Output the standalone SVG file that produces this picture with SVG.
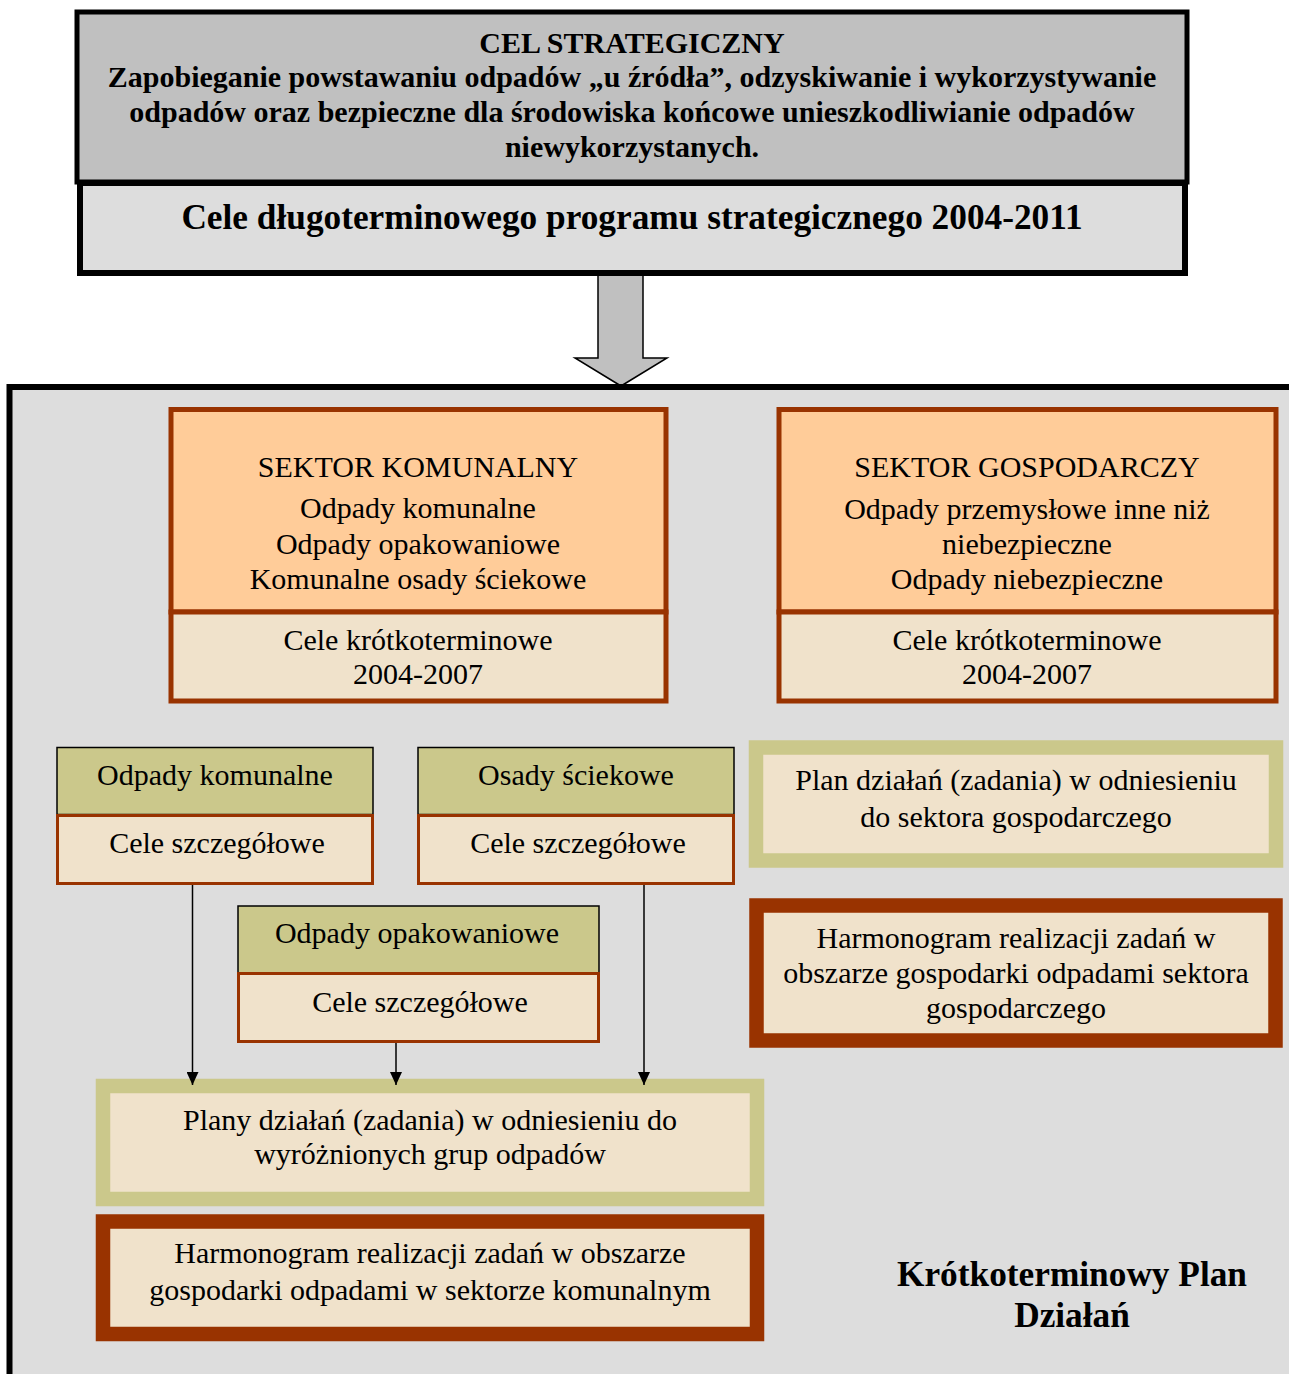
<svg xmlns="http://www.w3.org/2000/svg" width="1289" height="1374" viewBox="0 0 1289 1374">
<style>
text{font-family:"Liberation Serif","Times New Roman",serif;fill:#000;text-anchor:middle}
.r{font-size:30px}
.b{font-size:30px;font-weight:bold}
.bb{font-size:35.3px;font-weight:bold}
.orange{fill:#ffcc99;stroke:#993300;stroke-width:5}
.cream5{fill:#f0e2cb;stroke:#993300;stroke-width:5}
.olivehd{fill:#cbc88b;stroke:#000;stroke-width:1.5}
.cream3{fill:#f0e2cb;stroke:#993300;stroke-width:3}
.oliveframe{fill:#f0e2cb;stroke:#cbc88b;stroke-width:14.5}
.brownframe{fill:#f0e2cb;stroke:#993300;stroke-width:14.5}
.conn{stroke:#000;stroke-width:1.5;fill:none}
</style>
<defs>
<marker id="ah" markerUnits="userSpaceOnUse" markerWidth="13" markerHeight="12" refX="13" refY="6" orient="auto" viewBox="0 0 13 12">
<path d="M0,0 L13,6 L0,12 Z" fill="#000"/>
</marker>
</defs>
<rect width="1289" height="1374" fill="#fff"/>

<g id="arrow-main">
<polygon points="598,272 643,272 643,358 667,358 621,386 575,358 598,358" fill="#c0c0c0" stroke="#000" stroke-width="1.5"/>
</g>

<g id="cel-strategiczny">
<rect x="77" y="12" width="1110" height="170" fill="#c0c0c0" stroke="#000" stroke-width="5"/>
<text class="b" x="632" y="53">CEL STRATEGICZNY</text>
<text class="b" x="632" y="87">Zapobieganie powstawaniu odpadów „u źródła”, odzyskiwanie i wykorzystywanie</text>
<text class="b" x="632" y="122">odpadów oraz bezpieczne dla środowiska końcowe unieszkodliwianie odpadów</text>
<text class="b" x="632" y="157">niewykorzystanych.</text>
</g>
<g id="cele-dlugoterminowe">
<rect x="80" y="183" width="1105" height="90" fill="#dddddd" stroke="#000" stroke-width="6"/>
<text class="bb" x="632" y="229">Cele długoterminowego programu strategicznego 2004-2011</text>
</g>

<g id="plan-krotkoterminowy">
<rect x="9.5" y="387" width="1300" height="1000" fill="#dddddd" stroke="#000" stroke-width="6"/>
<text class="bb" x="1072" y="1286">Krótkoterminowy Plan</text>
<text class="bb" x="1072" y="1327">Działań</text>
</g>

<g id="sektor-komunalny">
<rect class="orange" x="171" y="409.5" width="495" height="202.5"/>
<rect class="cream5" x="171" y="612" width="495" height="89"/>
<text class="r" x="418" y="477">SEKTOR KOMUNALNY</text>
<text class="r" x="418" y="518">Odpady komunalne</text>
<text class="r" x="418" y="554">Odpady opakowaniowe</text>
<text class="r" x="418" y="589">Komunalne osady ściekowe</text>
<text class="r" x="418" y="650">Cele krótkoterminowe</text>
<text class="r" x="418" y="684">2004-2007</text>
</g>

<g id="sektor-gospodarczy">
<rect class="orange" x="779" y="409.5" width="497" height="202.5"/>
<rect class="cream5" x="779" y="612" width="497" height="89"/>
<text class="r" x="1027" y="477">SEKTOR GOSPODARCZY</text>
<text class="r" x="1027" y="519">Odpady przemysłowe inne niż</text>
<text class="r" x="1027" y="554">niebezpieczne</text>
<text class="r" x="1027" y="589">Odpady niebezpieczne</text>
<text class="r" x="1027" y="650">Cele krótkoterminowe</text>
<text class="r" x="1027" y="684">2004-2007</text>
</g>

<g id="odpady-komunalne">
<rect class="olivehd" x="57" y="747.5" width="316" height="67"/>
<rect class="cream3" x="57.5" y="815.5" width="315" height="68"/>
<text class="r" x="215" y="785">Odpady komunalne</text>
<text class="r" x="217" y="853">Cele szczegółowe</text>
</g>

<g id="osady-sciekowe">
<rect class="olivehd" x="418" y="747.5" width="316" height="67"/>
<rect class="cream3" x="418.5" y="815.5" width="315" height="68"/>
<text class="r" x="576" y="785">Osady ściekowe</text>
<text class="r" x="578" y="853">Cele szczegółowe</text>
</g>

<g id="odpady-opakowaniowe">
<rect class="olivehd" x="238" y="906" width="361" height="67"/>
<rect class="cream3" x="238.5" y="973.5" width="360" height="68"/>
<text class="r" x="417" y="943">Odpady opakowaniowe</text>
<text class="r" x="420" y="1012">Cele szczegółowe</text>
</g>

<g id="plany-dzialan">
<rect class="oliveframe" x="103" y="1086" width="654" height="113"/>
<text class="r" x="430" y="1130">Plany działań (zadania) w odniesieniu do</text>
<text class="r" x="430" y="1164">wyróżnionych grup odpadów</text>
</g>

<g id="connectors">
<line class="conn" x1="192.5" y1="885" x2="192.5" y2="1085" marker-end="url(#ah)"/>
<line class="conn" x1="396" y1="1043" x2="396" y2="1085" marker-end="url(#ah)"/>
<line class="conn" x1="644" y1="885" x2="644" y2="1085" marker-end="url(#ah)"/>
</g>

<g id="harmonogram-komunalny">
<rect class="brownframe" x="103" y="1221.5" width="654" height="112.5"/>
<text class="r" x="430" y="1263">Harmonogram realizacji zadań w obszarze</text>
<text class="r" x="430" y="1300">gospodarki odpadami w sektorze komunalnym</text>
</g>

<g id="plan-gospodarczy">
<rect class="oliveframe" x="756" y="747.5" width="520" height="113"/>
<text class="r" x="1016" y="790">Plan działań (zadania) w odniesieniu</text>
<text class="r" x="1016" y="827">do sektora gospodarczego</text>
</g>

<g id="harmonogram-gospodarczy">
<rect class="brownframe" x="756.5" y="905.5" width="519" height="135"/>
<text class="r" x="1016" y="948">Harmonogram realizacji zadań w</text>
<text class="r" x="1016" y="983">obszarze gospodarki odpadami sektora</text>
<text class="r" x="1016" y="1018">gospodarczego</text>
</g>
</svg>
